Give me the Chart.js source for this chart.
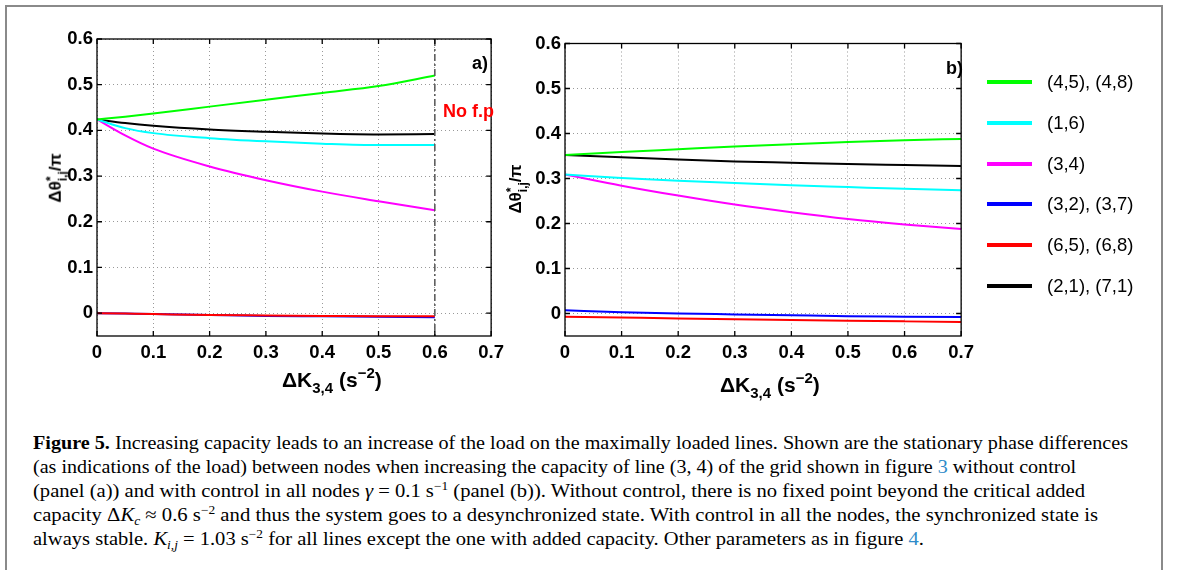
<!DOCTYPE html>
<html>
<head>
<meta charset="utf-8">
<script src="https://cdn.jsdelivr.net/npm/chart.js@4.4.1/dist/chart.umd.min.js"></script>
<style>
  body { margin: 0; width: 1179px; height: 570px; overflow: hidden; position: relative; background: #fff;
         font-family: 'Liberation Sans', Arial, sans-serif; color: #000; }
  #frame { position: absolute; left: 5px; top: 5px; width: 1158px; height: 620px; box-sizing: border-box;
           border: 2px solid #8a8a8a; }
  canvas { position: absolute; top: 0; }
  .lbl { position: absolute; white-space: nowrap; font-weight: bold; }
  .xt { font-size: 21px; line-height: 20px; }
  .xt sub, .xt sup { font-size: 15px; vertical-align: baseline; position: relative; }
  .xt sub { top: 6px; }
  .xt sup { top: -9px; }
  .yt { font-size: 17px; line-height: 24px; transform: translate(-50%, -50%) rotate(-90deg); }
  .ss { display: inline-block; vertical-align: middle; font-size: 12px; line-height: 12px; text-align: left; }
  .ss span { display: block; }
  .leg { position: absolute; left: 0; top: 0; }
  .leg .row { position: absolute; height: 22px; }
  .leg .ln { position: absolute; left: 0; top: 9px; width: 45px; height: 4px; }
  .leg .tx { position: absolute; left: 60px; top: 0; font-size: 18.5px; line-height: 22px; white-space: nowrap; }
  .cap { position: absolute; left: 33px; white-space: nowrap; font-family: 'Liberation Serif', 'Times New Roman', serif;
         font-size: 18.5px; line-height: 24px; transform-origin: 0 0; }
  .cap sup, .cap sub { font-size: 12px; vertical-align: baseline; position: relative; }
  .cap sup { top: -7px; }
  .cap sub { top: 4px; }
  .cap .ref { color: #2e8bc9; }
</style>
</head>
<body>
<div id="frame"></div>
<canvas id="panelA" width="510" height="420" style="left:0"></canvas>
<canvas id="panelB" width="480" height="420" style="left:500px"></canvas>

<div class="lbl" style="left:472px;top:53px;font-size:18px;line-height:20px">a)</div>
<div class="lbl" style="left:946px;top:58px;font-size:18px;line-height:20px">b)</div>
<div class="lbl" style="left:443px;top:101px;font-size:18px;line-height:20px;color:#ff0000">No f.p</div>

<div class="lbl xt" style="left:282px;top:370px">&Delta;K<sub>3,4</sub> (s<sup>&minus;2</sup>)</div>
<div class="lbl xt" style="left:720px;top:375px">&Delta;K<sub>3,4</sub> (s<sup>&minus;2</sup>)</div>
<div class="lbl yt" style="left:56px;top:178px">&Delta;&theta;<span class="ss"><span>*</span><span>i,j</span></span>/&pi;</div>
<div class="lbl yt" style="left:516px;top:189px">&Delta;&theta;<span class="ss"><span>*</span><span>i,j</span></span>/&pi;</div>

<div class="leg" id="legend"></div>

<div class="cap" style="top:431px" data-w="1095"><b>Figure 5.</b> Increasing capacity leads to an increase of the load on the maximally loaded lines. Shown are the stationary phase differences</div>
<div class="cap" style="top:455px" data-w="1043">(as indications of the load) between nodes when increasing the capacity of line (3, 4) of the grid shown in figure <span class="ref">3</span> without control</div>
<div class="cap" style="top:479px" data-w="1052">(panel (a)) and with control in all nodes <i>&gamma;</i> = 0.1 s<sup>&minus;1</sup> (panel (b)). Without control, there is no fixed point beyond the critical added</div>
<div class="cap" style="top:503px" data-w="1065">capacity &Delta;<i>K<sub>c</sub></i> &asymp; 0.6 s<sup>&minus;2</sup> and thus the system goes to a desynchronized state. With control in all the nodes, the synchronized state is</div>
<div class="cap" style="top:527px" data-w="891">always stable. <i>K<sub>i,j</sub></i> = 1.03 s<sup>&minus;2</sup> for all lines except the one with added capacity. Other parameters as in figure <span class="ref">4</span>.</div>

<script>
// added capacity of line (3,4), s^-2
const kA = [0, 0.05, 0.1, 0.2, 0.3, 0.4, 0.5, 0.6];
const kB = [0, 0.1, 0.2, 0.3, 0.4, 0.5, 0.6, 0.7];
const xTicks = [0, 0.1, 0.2, 0.3, 0.4, 0.5, 0.6, 0.7];
const yTicks = [0, 0.1, 0.2, 0.3, 0.4, 0.5, 0.6];
const criticalK = 0.6;

const lineNames = ['(4,5), (4,8)', '(1,6)', '(3,4)', '(3,2), (3,7)', '(6,5), (6,8)', '(2,1), (7,1)'];
const lineColors = ['#00ff00', '#00ffff', '#ff00ff', '#0000ff', '#ff0000', '#000000'];

// phase differences / pi, no control
const a45 = [0.424, 0.430, 0.437, 0.452, 0.467, 0.482, 0.497, 0.520];
const a16 = [0.424, 0.405, 0.394, 0.383, 0.376, 0.371, 0.368, 0.368];
const a34 = [0.424, 0.389, 0.360, 0.321, 0.291, 0.266, 0.245, 0.225];
const a32 = [0, -0.001, -0.002, -0.004, -0.006, -0.007, -0.008, -0.009];
const a65 = [0, -0.001, -0.002, -0.004, -0.005, -0.006, -0.007, -0.007];
const a21 = [0.424, 0.416, 0.410, 0.402, 0.397, 0.393, 0.391, 0.392];

// phase differences / pi, control in all nodes
const b45 = [0.352, 0.359, 0.365, 0.371, 0.376, 0.381, 0.385, 0.388];
const b16 = [0.309, 0.301, 0.295, 0.290, 0.285, 0.281, 0.277, 0.274];
const b34 = [0.309, 0.284, 0.262, 0.242, 0.225, 0.210, 0.198, 0.188];
const b32 = [0.007, 0.003, 0.000, -0.002, -0.004, -0.006, -0.007, -0.008];
const b65 = [-0.007, -0.009, -0.011, -0.013, -0.0145, -0.016, -0.0175, -0.019];
const b21 = [0.352, 0.347, 0.342, 0.338, 0.335, 0.332, 0.330, 0.328];

Chart.defaults.font.family = "'Liberation Sans', Arial, sans-serif";

// matlab style box with inward ticks, plus optional dash-dot limit line
const boxPlugin = {
  id: 'box',
  afterDatasetsDraw(chart, args, opts) {
    const { ctx, chartArea: a, scales } = chart;
    ctx.save();
    if (opts.limit != null) {
      const px = scales.x.getPixelForValue(opts.limit);
      ctx.strokeStyle = '#555';
      ctx.lineWidth = 1.5;
      ctx.setLineDash([7, 3, 2, 3]);
      ctx.beginPath();
      ctx.moveTo(px, a.top);
      ctx.lineTo(px, a.bottom);
      ctx.stroke();
      ctx.setLineDash([]);
    }
    ctx.strokeStyle = '#000';
    ctx.lineWidth = 1.3;
    ctx.strokeRect(a.left, a.top, a.right - a.left, a.bottom - a.top);
    ctx.beginPath();
    xTicks.forEach(v => {
      const px = scales.x.getPixelForValue(v);
      ctx.moveTo(px, a.bottom); ctx.lineTo(px, a.bottom - 5);
      ctx.moveTo(px, a.top); ctx.lineTo(px, a.top + 5);
    });
    yTicks.forEach(v => {
      const py = scales.y.getPixelForValue(v);
      ctx.moveTo(a.left, py); ctx.lineTo(a.left + 5, py);
      ctx.moveTo(a.right, py); ctx.lineTo(a.right - 5, py);
    });
    ctx.stroke();
    ctx.restore();
  }
};

function makePanel(id, xs, values, layout) {
  // red sits on top of blue, everything else in legend order
  const drawOrder = [2, 3, 4, 1, 0, 5];
  const datasets = values.map((vals, i) => ({
    label: lineNames[i],
    data: xs.map((x, j) => ({ x: x, y: vals[j] })),
    borderColor: lineColors[i],
    borderWidth: 2,
    pointRadius: 0,
    cubicInterpolationMode: 'monotone',
    order: drawOrder[i]
  }));
  const tickFont = { size: 18.5, weight: 'bold' };
  return new Chart(document.getElementById(id), {
    type: 'line',
    data: { datasets: datasets },
    plugins: [boxPlugin],
    options: {
      responsive: false,
      animation: false,
      devicePixelRatio: 1,
      layout: { padding: { left: 0, top: layout.top, right: layout.right, bottom: 0 } },
      plugins: {
        legend: { display: false },
        tooltip: { enabled: false },
        box: { limit: layout.limit }
      },
      scales: {
        x: {
          type: 'linear', min: 0, max: 0.7,
          afterBuildTicks: s => { s.ticks = xTicks.map(v => ({ value: v })); },
          afterFit: s => { s.height = 420 - layout.bottom; },
          ticks: { font: tickFont, color: '#000', padding: 6, maxRotation: 0,
                   callback: v => v === 0 ? '0' : v.toFixed(1) },
          grid: { color: '#999999', lineWidth: 1, drawTicks: false },
          border: { display: false, dash: [1, 3] }
        },
        y: {
          min: -0.05, max: 0.6,
          afterBuildTicks: s => { s.ticks = yTicks.map(v => ({ value: v })); },
          afterFit: s => { s.width = layout.left; },
          ticks: { font: tickFont, color: '#000', padding: 4,
                   callback: v => v === 0 ? '0' : v.toFixed(1) },
          grid: { color: '#999999', lineWidth: 1, drawTicks: false },
          border: { display: false, dash: [1, 3] }
        }
      }
    }
  });
}

makePanel('panelA', kA, [a45, a16, a34, a32, a65, a21],
  { left: 97, top: 39, right: 15, bottom: 336, limit: criticalK });
makePanel('panelB', kB, [b45, b16, b34, b32, b65, b21],
  { left: 65, top: 43.5, right: 15, bottom: 336, limit: null });

// legend to the right of panel b
const legend = document.getElementById('legend');
lineNames.forEach((name, i) => {
  const row = document.createElement('div');
  row.className = 'row';
  row.style.left = '987px';
  row.style.top = (70.7 + i * 40.9) + 'px';
  row.innerHTML = '<div class="ln" style="background:' + lineColors[i] + '"></div><div class="tx">' + name + '</div>';
  legend.appendChild(row);
});

// stretch caption lines to the column width
document.querySelectorAll('.cap').forEach(el => {
  const w = el.getBoundingClientRect().width;
  el.style.transform = 'scaleX(' + (parseFloat(el.dataset.w) / w) + ')';
});
</script>
</body>
</html>
